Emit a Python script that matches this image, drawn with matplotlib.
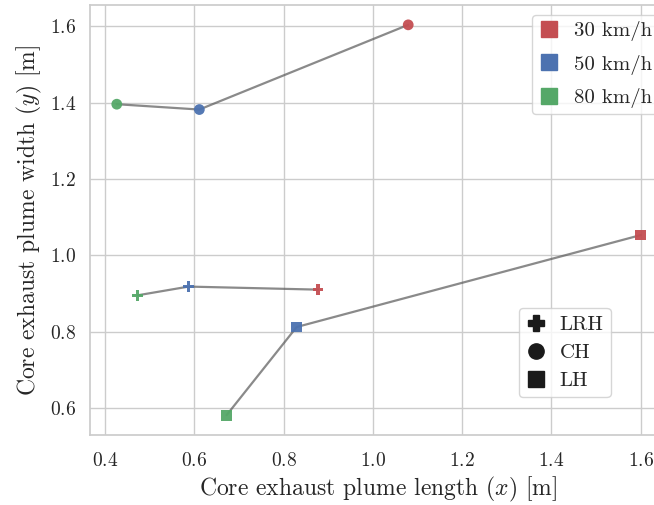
import matplotlib
matplotlib.use("Agg")
import matplotlib.pyplot as plt
from matplotlib.lines import Line2D
import seaborn as sns

sns.set_theme(style="whitegrid")
plt.rcParams['font.family'] = ['cmr10', 'DejaVu Serif']
plt.rcParams['mathtext.fontset'] = 'cm'
plt.rcParams['axes.formatter.use_mathtext'] = True

speeds = ["30 km/h", "50 km/h", "80 km/h"]
colors = ["#C44E52", "#4C72B0", "#55A868"]
types = ["LRH", "CH", "LH"]
markers = ["P", "o", "s"]

# x (length) and y (width) per type, ordered by speeds
lrh_x = [0.877, 0.587, 0.472]
lrh_y = [0.910, 0.918, 0.895]
ch_x = [1.079, 0.611, 0.426]
ch_y = [1.604, 1.382, 1.396]
lh_x = [1.600, 0.829, 0.672]
lh_y = [1.053, 0.812, 0.581]

xs = [lrh_x, ch_x, lh_x]
ys = [lrh_y, ch_y, lh_y]

fig = plt.figure(figsize=(6.54, 5.05), dpi=100)
ax = fig.add_axes([0.1376, 0.1386, 0.8824, 0.8515])

for tx, ty, mk in zip(xs, ys, markers):
    ax.plot(tx, ty, color="0.35", alpha=0.7, lw=1.6, zorder=2)
    for x, y, c in zip(tx, ty, colors):
        ax.scatter([x], [y], marker=mk, s=60, color=c, alpha=0.95,
                   edgecolors='none', zorder=3)

ax.set_xlim(0.366, 1.659)
ax.set_ylim(0.529, 1.656)
ax.set_xticks([0.4, 0.6, 0.8, 1.0, 1.2, 1.4, 1.6])
ax.set_yticks([0.6, 0.8, 1.0, 1.2, 1.4, 1.6])
ax.tick_params(axis='x', labelsize=14, pad=6)
ax.tick_params(axis='y', labelsize=14, pad=4)
for s in ax.spines.values():
    s.set_color('0.8')
    s.set_linewidth(1.25)

ax.set_xlabel("Core exhaust plume length ($x$) [m]", fontsize=17, labelpad=4)
ax.set_ylabel("Core exhaust plume width ($y$) [m]", fontsize=17, labelpad=4)

h1 = [Line2D([], [], marker='s', ls='none', color=c, markersize=12) for c in colors]
leg1 = ax.legend(h1, speeds, loc='upper left', bbox_to_anchor=(0.766, 0.977),
                 borderaxespad=0, fontsize=15, frameon=True, handlelength=1.0,
                 handletextpad=0.7, labelspacing=0.65, borderpad=0.3)
ax.add_artist(leg1)

h2 = [Line2D([], [], marker=m, ls='none', color='k', markersize=11) for m in markers]
ax.legend(h2, types, loc='upper left', bbox_to_anchor=(0.743, 0.295),
          borderaxespad=0, fontsize=15, frameon=True, handlelength=1.0,
          handletextpad=0.6, labelspacing=0.45, borderpad=0.35)

fig.savefig("out.png", dpi=100)
